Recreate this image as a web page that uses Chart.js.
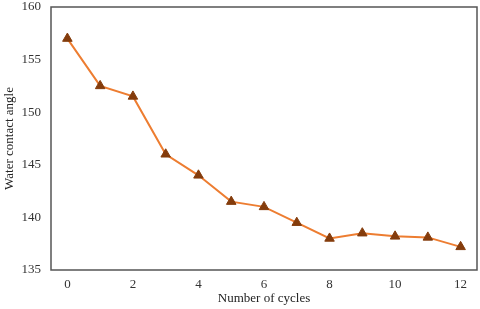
<!DOCTYPE html>
<html>
<head>
<meta charset="utf-8">
<script src="https://cdn.jsdelivr.net/npm/chart.js@4"></script>
<style>
  html, body { margin: 0; padding: 0; background: #fff; }
  #wrap { width: 480px; height: 309px; }
</style>
</head>
<body>
<div id="wrap"><canvas id="wca-chart"></canvas></div>
<script>
// data
var cycles = [0, 1, 2, 3, 4, 5, 6, 7, 8, 9, 10, 11, 12];
var contactAngle = [157, 152.5, 151.5, 146, 144, 141.5, 141, 139.5, 138, 138.5, 138.2, 138.1, 137.2];
var xTicks = [0, 2, 4, 6, 8, 10, 12];
var yTicks = [135, 140, 145, 150, 155, 160];

// box round the plot area
var frameBox = {
    id: 'frameBox',
    afterDraw: function(chart) {
        var a = chart.chartArea;
        var ctx = chart.ctx;
        ctx.save();
        ctx.strokeStyle = '#555555';
        ctx.lineWidth = 1.5;
        ctx.strokeRect(a.left, a.top, a.right - a.left, a.bottom - a.top);
        ctx.restore();
    }
};

function lineChartDisplay() {
    var font = { family: '"Liberation Serif", "Times New Roman", serif', size: 13 };
    new Chart(document.getElementById('wca-chart'), {
        type: 'line',
        data: {
            datasets: [{
                data: cycles.map(function(c, i) { return { x: c, y: contactAngle[i] }; }),
                borderColor: '#ED7D31',
                borderWidth: 2,
                pointStyle: 'triangle',
                pointRadius: 5.5,
                pointBackgroundColor: '#843C0C',
                pointBorderColor: '#843C0C',
                pointBorderWidth: 1,
                tension: 0
            }]
        },
        options: {
            responsive: true,
            maintainAspectRatio: false,
            animation: false,
            layout: { autoPadding: false, padding: { top: 7, right: 3, left: 0, bottom: 0 } },
            plugins: {
                legend: { display: false },
                tooltip: { enabled: false }
            },
            scales: {
                x: {
                    type: 'linear',
                    min: -0.5,
                    max: 12.5,
                    afterBuildTicks: function(axis) {
                        axis.ticks = xTicks.map(function(v) { return { value: v }; });
                    },
                    afterFit: function(axis) {
                        axis.height = 39;
                        axis.paddingLeft = 0;
                        axis.paddingRight = 0;
                    },
                    grid: { display: false, drawTicks: false },
                    border: { display: false },
                    ticks: { font: font, color: '#333333', padding: 7, maxRotation: 0 },
                    title: {
                        display: true,
                        text: 'Number of cycles',
                        font: font,
                        color: '#222222',
                        padding: { top: 0, bottom: 3 }
                    }
                },
                y: {
                    min: 135,
                    max: 160,
                    afterBuildTicks: function(axis) {
                        axis.ticks = yTicks.map(function(v) { return { value: v }; });
                    },
                    afterFit: function(axis) {
                        axis.width = 51;
                        axis.paddingTop = 0;
                        axis.paddingBottom = 0;
                    },
                    grid: { display: false, drawTicks: false },
                    border: { display: false },
                    ticks: { font: font, color: '#333333', padding: 10 },
                    title: {
                        display: true,
                        text: 'Water contact angle',
                        font: font,
                        color: '#222222',
                        padding: { top: 2, bottom: 0 }
                    }
                }
            }
        },
        plugins: [frameBox]
    });
}

lineChartDisplay();
</script>
</body>
</html>
